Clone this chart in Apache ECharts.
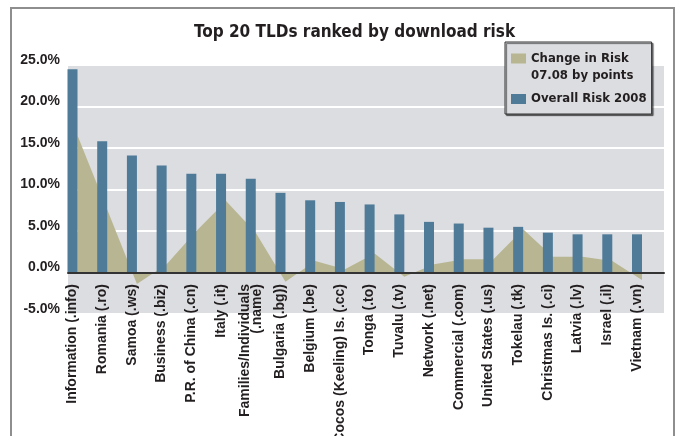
<!DOCTYPE html>
<html>
<head>
<meta charset="utf-8">
<script src="https://cdn.jsdelivr.net/npm/echarts@6/dist/echarts.min.js"></script>
<style>
  html, body { margin: 0; padding: 0; background: #ffffff; }
  #frame { position: absolute; left: 10px; top: 7px; width: 661px; height: 440px;
           border: 2px solid #8e8e8e; border-bottom: none; }
  #chart { position: absolute; left: 0; top: 0; width: 680px; height: 436px; }
</style>
</head>
<body>
<div id="frame"></div>
<div id="chart"></div>
<script>
const categories = [
  'Information (.info)', 'Romania (.ro)', 'Samoa (.ws)', 'Business (.biz)',
  'P.R. of China (.cn)', 'Italy (.it)', 'Families/Individuals\n(.name)', 'Bulgaria (.bg))',
  'Belgium (.be)', 'Cocos (Keeling) Is. (.cc)', 'Tonga (.to)', 'Tuvalu (.tv)',
  'Network (.net)', 'Commercial (.com)', 'United States (.us)', 'Tokelau (.tk)',
  'Christmas Is. (.ci)', 'Latvia (.lv)', 'Israel (.il)', 'Vietnam (.vn)'
];
const overallRisk2008 = [24.5, 15.8, 14.1, 12.9, 11.9, 11.9, 11.3, 9.6, 8.7, 8.5,
                         8.2, 7.0, 6.1, 5.9, 5.4, 5.5, 4.8, 4.6, 4.6, 4.6];
const changeInRisk = [16.5, 7.6, -1.4, 1.0, 5.0, 8.6, 4.8, -1.1, 1.4, 0.4,
                      2.3, -0.5, 1.0, 1.6, 1.6, 5.2, 1.9, 1.9, 1.4, -0.9];
const yTicks = { min: -5, max: 25, interval: 5 };
const titleText = 'Top 20 TLDs ranked by download risk';
const seriesNames = ['Change in Risk\n07.08 by points', 'Overall Risk 2008'];

const cond = "'DejaVu Sans Condensed', 'DejaVu Sans', sans-serif";
const regular = "'Liberation Sans', Arial, sans-serif";
const ink = '#231f20';
const plotBg = '#dcdde0';

const chart = echarts.init(document.getElementById('chart'), null, { renderer: 'canvas' });
const option = {
  animation: false,
  backgroundColor: 'transparent',
  title: {
    text: titleText, left: 189, top: 19,
    textStyle: { fontFamily: cond, fontWeight: 'bold', fontSize: 17, color: ink, lineHeight: 18 }
  },
  legend: {
    orient: 'vertical', left: 505, top: 42,
    padding: [-9, 5, 6.5, 6],
    itemGap: 6.5, itemWidth: 15, itemHeight: 10,
    icon: 'rect',
    backgroundColor: plotBg, borderColor: '#333333', borderWidth: 1,
    shadowColor: 'rgba(0,0,0,0.55)', shadowBlur: 1, shadowOffsetX: 1.5, shadowOffsetY: 1.5,
    textStyle: { fontFamily: cond, fontWeight: 'bold', fontSize: 13, color: ink, lineHeight: 17 },
    formatter: function (name) { return name === seriesNames[0] ? '\n' + name : name; },
    data: seriesNames
  },
  grid: [
    { left: 68, right: 16, top: 65, bottom: 122, outerBoundsMode: 'none', containLabel: false,
      show: true, backgroundColor: plotBg, borderWidth: 0 },
    { left: 72.5, right: 43, top: 65, bottom: 122, outerBoundsMode: 'none', containLabel: false },
    { left: 77.5, right: 38, top: 65, bottom: 122, outerBoundsMode: 'none', containLabel: false }
  ],
  xAxis: [
    { gridIndex: 0, type: 'category', data: categories, boundaryGap: true, z: 10,
      axisLine: { show: true, onZero: true, lineStyle: { color: '#333333', width: 2 } },
      axisTick: { show: false }, axisLabel: { show: false }, splitLine: { show: false } },
    { gridIndex: 1, type: 'category', data: categories, boundaryGap: false,
      axisLine: { show: false, onZero: false },
      axisTick: { show: false },
      axisLabel: { interval: 0, rotate: 90, margin: -30, fontFamily: regular, fontWeight: 'bold',
                   fontSize: 14, color: ink, lineHeight: 12 },
      splitLine: { show: false } },
    { gridIndex: 2, type: 'category', data: categories, boundaryGap: false, show: false }
  ],
  yAxis: [
    { gridIndex: 0, type: 'value', min: yTicks.min, max: yTicks.max, interval: yTicks.interval,
      axisLine: { show: false }, axisTick: { show: false }, axisLabel: { show: false },
      splitLine: { show: true, lineStyle: { color: '#ffffff', width: 2 } } },
    { gridIndex: 1, type: 'value', min: yTicks.min, max: yTicks.max, interval: yTicks.interval,
      axisLine: { show: false }, axisTick: { show: false }, splitLine: { show: false },
      axisLabel: { margin: 12.5, fontFamily: regular, fontWeight: 'bold', fontSize: 14, color: ink,
                   verticalAlign: 'bottom', lineHeight: 10,
                   formatter: function (v) { return v.toFixed(1) + '%'; } } },
    { gridIndex: 2, type: 'value', min: yTicks.min, max: yTicks.max, interval: yTicks.interval, show: false }
  ],
  series: [
    { name: seriesNames[0], type: 'line', xAxisIndex: 2, yAxisIndex: 2, data: changeInRisk,
      symbol: 'none', z: 1, lineStyle: { width: 0, color: '#b8b692' },
      itemStyle: { color: '#b8b692' },
      areaStyle: { color: '#b8b692', opacity: 1 } },
    { name: seriesNames[1], type: 'bar', xAxisIndex: 1, yAxisIndex: 1, data: overallRisk2008,
      barWidth: 10, z: 2, itemStyle: { color: '#4f7b99' } }
  ]
};
chart.setOption(option);
</script>
</body>
</html>
